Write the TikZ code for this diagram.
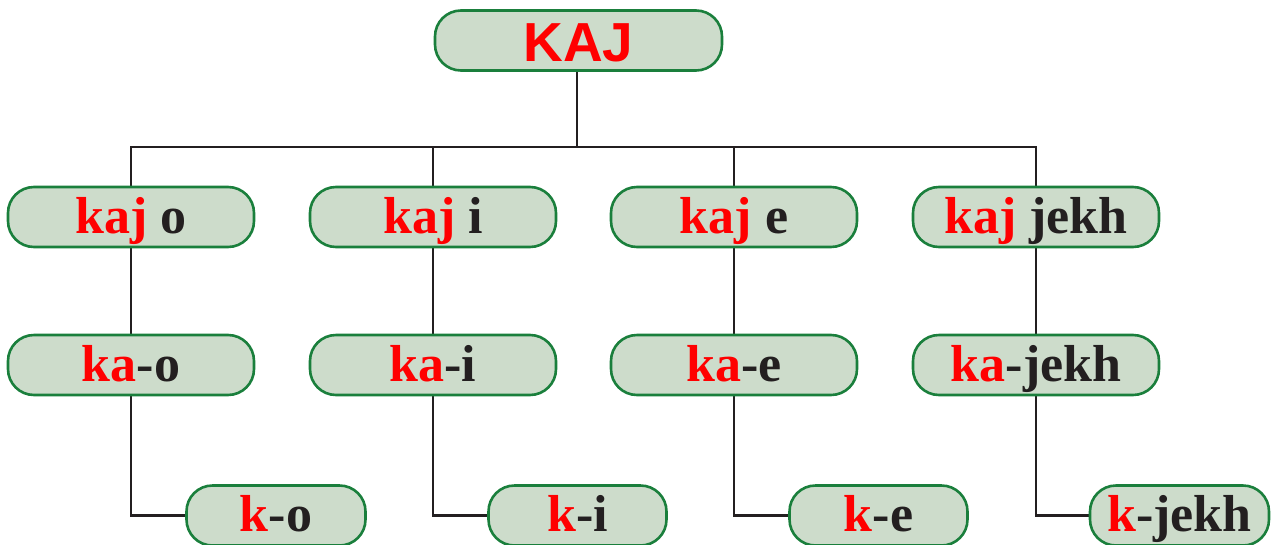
\documentclass[tikz,border=0pt]{standalone}
\usepackage{fontspec}
\setmainfont{Liberation Serif}
\setsansfont{Liberation Sans}
\usetikzlibrary{backgrounds}
\definecolor{boxfill}{HTML}{CDDCCB}
\definecolor{boxline}{HTML}{1A7F3C}
\definecolor{ink}{HTML}{231F20}
\definecolor{hot}{HTML}{FF0000}
\newcommand{\rd}[1]{\textcolor{hot}{#1}}
\tikzset{
  box/.style={draw=boxline, line width=2.6pt, fill=boxfill, rounded corners=26pt,
    inner sep=0pt, minimum height=60pt, text=ink,
    font=\bfseries\fontsize{52}{52}\selectfont, text height=36pt, text depth=4pt},
  topbox/.style={box, font=\sffamily\bfseries\fontsize{55}{55}\selectfont,
    text height=41pt, text depth=-2pt, text=hot},
  conn/.style={draw=ink, line width=2.4pt}
}
\begin{document}
\begin{tikzpicture}[x=1pt,y=-1pt]
\useasboundingbox (0,0) rectangle (1274,544);
\node[topbox, minimum width=287pt] (top) at (578.5,40.5) {KAJ};
\coordinate (bus) at (577,147);
% level 1
\node[box, minimum width=246pt] (a1) at (131,217) {\rd{kaj} o};
\node[box, minimum width=246pt] (b1) at (433,217) {\rd{kaj} i};
\node[box, minimum width=246pt] (c1) at (734,217) {\rd{kaj} e};
\node[box, minimum width=246pt] (d1) at (1036,217) {\rd{kaj} jekh};
% level 2
\node[box, minimum width=246pt] (a2) at (131,365) {\rd{ka}-o};
\node[box, minimum width=246pt] (b2) at (433,365) {\rd{ka}-i};
\node[box, minimum width=246pt] (c2) at (734,365) {\rd{ka}-e};
\node[box, minimum width=246pt] (d2) at (1036,365) {\rd{ka}-jekh};
% level 3
\node[box, minimum width=179pt] (a3) at (276,515.5) {\rd{k}-o};
\node[box, minimum width=178pt] (b3) at (577.5,515.5) {\rd{k}-i};
\node[box, minimum width=178pt] (c3) at (878.5,515.5) {\rd{k}-e};
\node[box, minimum width=179pt] (d3) at (1179.5,515.5) {\rd{k}-jekh};
\begin{scope}[on background layer]
\draw[conn] (bus |- top.south) -- (bus);
\draw[conn] (a1.center) |- (bus) -| (d1.center);
\draw[conn] (b1.center) -- (b1.center |- bus);
\draw[conn] (c1.center) -- (c1.center |- bus);
\draw[conn] (a1.center) -- (a2.center);
\draw[conn] (b1.center) -- (b2.center);
\draw[conn] (c1.center) -- (c2.center);
\draw[conn] (d1.center) -- (d2.center);
\draw[conn] (a2.center) |- (a3.west);
\draw[conn] (b2.center) |- (b3.west);
\draw[conn] (c2.center) |- (c3.west);
\draw[conn] (d2.center) |- (d3.west);
\end{scope}
\end{tikzpicture}
\end{document}
